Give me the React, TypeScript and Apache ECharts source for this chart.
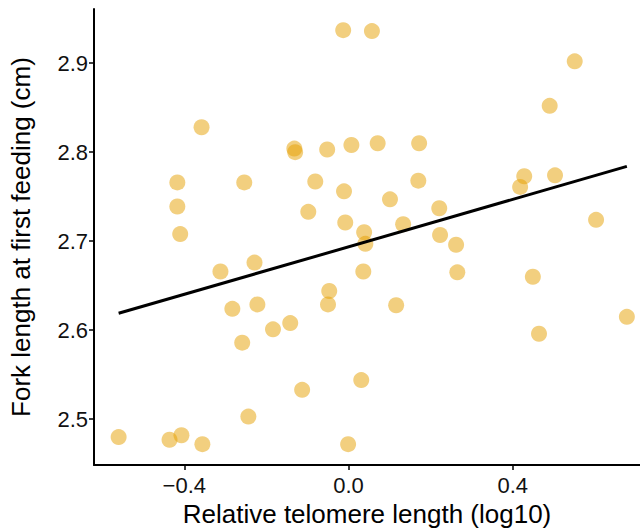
import React, { useEffect, useRef } from "react";
import * as echarts from "echarts";

const telomere = [
  -0.560, -0.436, -0.407, -0.356, -0.244, -0.113, 0.031, -0.001, -0.312, -0.283,
  -0.222, -0.259, -0.184, -0.142, -0.229, -0.410, -0.417, -0.417, -0.358, -0.254,
  -0.132, -0.130, -0.098, -0.081, -0.052, -0.013, 0.057, -0.011, -0.008, 0.007,
  -0.047, -0.050, 0.038, 0.041, 0.036, 0.071, 0.101, 0.133, 0.116, 0.172,
  0.170, 0.221, 0.223, 0.262, 0.265, 0.418, 0.428, 0.503, 0.490, 0.551,
  0.449, 0.464, 0.603, 0.678,
];
const forkLength = [
  2.480, 2.477, 2.482, 2.472, 2.503, 2.533, 2.544, 2.472, 2.666, 2.624,
  2.629, 2.586, 2.601, 2.608, 2.676, 2.708, 2.739, 2.766, 2.828, 2.766,
  2.804, 2.800, 2.733, 2.767, 2.803, 2.937, 2.936, 2.756, 2.721, 2.808,
  2.644, 2.629, 2.710, 2.697, 2.666, 2.810, 2.747, 2.719, 2.628, 2.810,
  2.768, 2.737, 2.707, 2.696, 2.665, 2.761, 2.773, 2.774, 2.852, 2.902,
  2.660, 2.596, 2.724, 2.615,
];
const fitX = [-0.560, 0.678];
const fitY = [2.619, 2.784];
const xTicks = [-0.4, 0.0, 0.4];
const yTicks = [2.5, 2.6, 2.7, 2.8, 2.9];

export default function App() {
  const ref = useRef<HTMLDivElement>(null);
  useEffect(() => {
    if (!ref.current) return;
    const chart = echarts.init(ref.current, null, { renderer: "svg" });
    const font = "'Liberation Sans', Arial, sans-serif";
    chart.setOption({
      animation: false,
      backgroundColor: "#ffffff",
      grid: { left: 92, right: 0, top: 9, bottom: 64, containLabel: false },
      xAxis: {
        type: "value",
        min: -0.62,
        max: 0.71,
        name: "Relative telomere length (log10)",
        nameLocation: "middle",
        nameGap: 30,
        nameTextStyle: { fontFamily: font, fontSize: 26, color: "#000", verticalAlign: "top" },
        axisLine: { show: true, onZero: false, lineStyle: { color: "#000", width: 2 } },
        axisTick: { show: true, length: 5, customValues: xTicks, lineStyle: { color: "#000", width: 1.5 } },
        axisLabel: {
          customValues: xTicks,
          margin: 9,
          fontFamily: font,
          fontSize: 22,
          color: "#111",
          formatter: (v: number) => v.toFixed(1).replace("-", "\u2212"),
        },
        splitLine: { show: false },
      },
      yAxis: {
        type: "value",
        min: 2.4485,
        max: 2.9608,
        name: "Fork length at first feeding (cm)",
        nameLocation: "middle",
        nameGap: 60,
        nameRotate: 90,
        nameTextStyle: { fontFamily: font, fontSize: 26, color: "#000" },
        axisLine: { show: true, onZero: false, lineStyle: { color: "#000", width: 2 } },
        axisTick: { show: true, length: 5, customValues: yTicks, lineStyle: { color: "#000", width: 1.5 } },
        axisLabel: {
          customValues: yTicks,
          margin: 6,
          fontFamily: font,
          fontSize: 22,
          color: "#111",
          formatter: (v: number) => v.toFixed(1),
        },
        splitLine: { show: false },
      },
      series: [
        {
          type: "scatter",
          data: telomere.map((x, i) => [x, forkLength[i]]),
          symbolSize: 16,
          itemStyle: { color: "#E69F00", opacity: 0.5 },
          z: 2,
        },
        {
          type: "line",
          data: fitX.map((x, i) => [x, fitY[i]]),
          symbol: "none",
          lineStyle: { color: "#000", width: 3 },
          z: 3,
        },
      ],
    });
    return () => chart.dispose();
  }, []);
  return <div ref={ref} style={{ width: 640, height: 532, position: "fixed", left: 0, top: 0 }} />;
}
